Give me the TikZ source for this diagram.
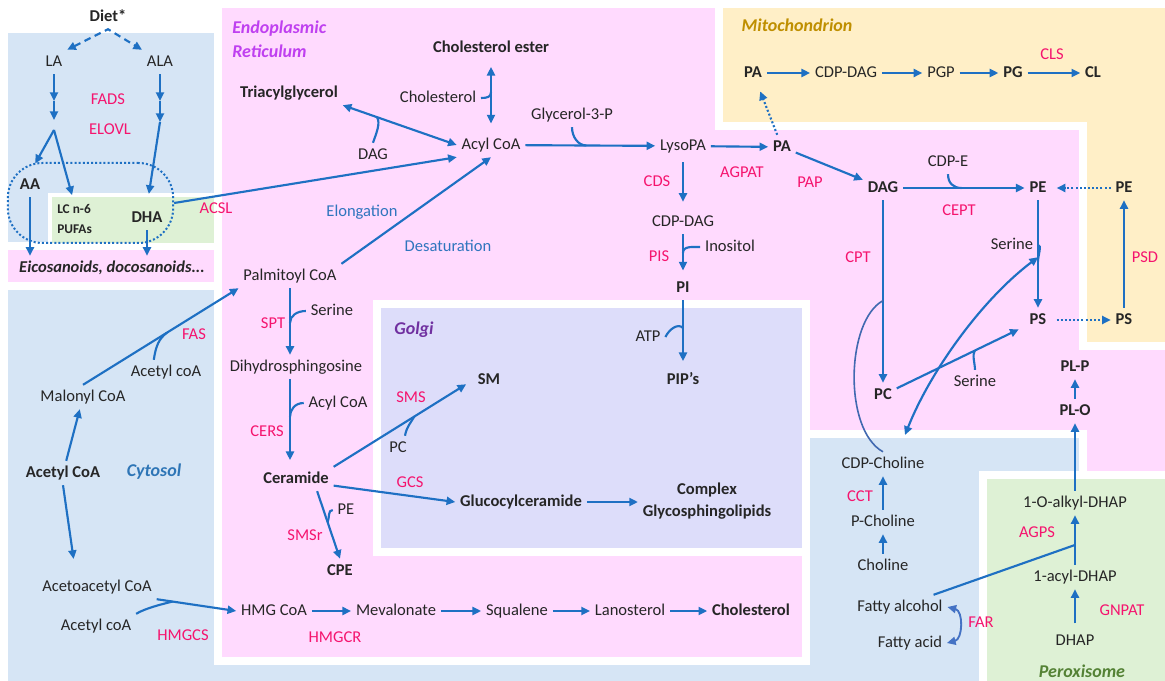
\documentclass[tikz,border=0pt]{standalone}
\usepackage{fontspec}
\setmainfont{Carlito}
\usetikzlibrary{arrows.meta,positioning,calc}

\definecolor{arrowblue}{RGB}{30,112,195}
\definecolor{enzpink}{RGB}{245,20,110}
\definecolor{textgray}{RGB}{38,38,38}
\definecolor{cytoblue}{RGB}{214,229,245}
\definecolor{erpink}{RGB}{255,218,254}
\definecolor{mitoyellow}{RGB}{255,239,199}
\definecolor{golgiblue}{RGB}{221,221,250}
\definecolor{peroxgreen}{RGB}{222,241,213}
\definecolor{ervio}{RGB}{191,64,240}
\definecolor{mitogold}{RGB}{191,143,0}
\definecolor{golgivio}{RGB}{112,48,160}
\definecolor{cytotext}{RGB}{46,117,182}
\definecolor{peroxtext}{RGB}{84,130,53}
\definecolor{procblue}{RGB}{47,117,190}
\definecolor{arcblue}{RGB}{65,105,176}
\definecolor{farblue}{RGB}{68,114,196}

\begin{document}
\begin{tikzpicture}[x=0.75pt, y=-0.75pt,
    met/.style={font=\fontsize{12.4}{15}\selectfont, text=textgray, inner sep=3.5pt,
        text height=8.7pt, text depth=2.2pt},
    bmet/.style={met, font=\fontsize{12.4}{15}\selectfont\bfseries},
    enz/.style={met, text=enzpink},
    proc/.style={met, text=procblue},
    comp/.style={font=\fontsize{13.5}{18}\selectfont\bfseries\itshape, inner sep=0pt},
    rxn/.style={draw=arrowblue, line width=1.6pt, -{Triangle[length=6.5pt,width=6pt]}},
    birxn/.style={rxn, {Triangle[length=6.5pt,width=6pt]}-{Triangle[length=6.5pt,width=6pt]}},
    dotrxn/.style={rxn, dash pattern=on 1.5pt off 1.6pt},
    sidehook/.style={draw=arrowblue, line width=1.6pt},
    wall/.style={draw=white, line width=6pt, line join=miter}]
    \useasboundingbox (0,0) rectangle (1165,681);
    \fill[white] (0,0) rectangle (1165,681);

    % Compartments
    \fill[cytoblue] (8,33) rectangle (1083,681);
    \filldraw[wall, fill=erpink] (218,4) -- (1169,4) -- (1169,475) -- (1083,475) -- (1083,434)
        -- (806,434) -- (806,661) -- (218,661) -- cycle;
    \filldraw[wall, fill=mitoyellow] (719,4) -- (1169,4) -- (1169,346) -- (1083,346)
        -- (1083,126) -- (719,126) -- cycle;
    \filldraw[wall, fill=golgiblue] (377,304) rectangle (806,552);
    \filldraw[wall, fill=peroxgreen] (983,475) rectangle (1169,685);
    \filldraw[wall, fill=erpink] (4,246) rectangle (218,286);
    \filldraw[wall, line width=3pt, fill=peroxgreen] (50,195) rectangle (216,245);

    % Compartment labels
    \node[comp, text=ervio, anchor=north west, align=left] (ERL) at (232,21) {Endoplasmic\\Reticulum};
    \node[comp, text=mitogold] (MITOL) at (797,25) {Mitochondrion};
    \node[comp, text=golgivio] (GOLGIL) at (414,330) {Golgi};
    \node[comp, text=cytotext] (CYTOL) at (154,472) {Cytosol};
    \node[comp, text=peroxtext] (PEROL) at (1082,671) {Peroxisome};

    % Diet and PUFAs
    \node[bmet] (DIET) at (108,17) {Diet*};
    \node[met] (LA) at (54,62) {LA};
    \node[met] (ALA) at (160,62) {ALA};
    \node[enz] (FADS) at (108,100) {FADS};
    \node[enz] (ELOVL) at (110,130) {ELOVL};
    \node[bmet] (AA) at (30,185) {AA};
    \node[anchor=west, font=\fontsize{10}{15}\selectfont\bfseries, text=textgray,
        align=left, inner sep=0pt] (LCN) at (57,219) {LC n-6\\PUFAs};
    \node[bmet] (DHA) at (147,218) {DHA};
    \node[bmet, font=\fontsize{12.4}{15}\selectfont\bfseries\itshape] (EICO) at (112,268) {Eicosanoids, docosanoids...};
    \node[enz] (ACSL) at (216,209) {ACSL};
    \node[draw=arrowblue, line width=1.5pt, dash pattern=on 1.5pt off 1.6pt, rounded corners=26pt,
        minimum width=124pt, minimum height=60pt, inner sep=0pt] (PUFA) at (90.5,203) {};
    \coordinate (LA1) at (54,101);
    \coordinate (LA2) at (54,120);
    \coordinate (LAB) at (54,130);
    \coordinate (AL1) at (160,101);
    \coordinate (AL2) at (160,122);

    % ER: glycerolipids
    \node[bmet] (TAG) at (289,93) {Triacylglycerol};
    \node[bmet] (CE) at (491,48) {Cholesterol ester};
    \node[met] (CHOL) at (438,98) {Cholesterol};
    \node[met] (ACYL) at (491,145) {Acyl CoA};
    \node[met] (DAGa) at (373,155) {DAG};
    \node[met] (G3P) at (572,115) {Glycerol-3-P};
    \node[met] (LYSO) at (683,146) {LysoPA};
    \node[bmet] (PA) at (782,147) {PA};
    \node[enz] (AGPAT) at (742,173) {AGPAT};
    \node[enz] (PAP) at (810,183) {PAP};
    \node[enz] (CDS) at (657,182) {CDS};
    \node[met] (CDPDAG) at (683,222) {CDP-DAG};
    \node[enz] (PIS) at (659,257) {PIS};
    \node[met] (INOS) at (730,247) {Inositol};
    \node[bmet] (PI) at (683,288) {PI};
    \node[met] (ATP) at (648,337) {ATP};
    \node[bmet] (PIP) at (683,380) {PIP’s};

    % Mitochondrion
    \node[bmet] (MPA) at (753,73) {PA};
    \node[met] (MCDP) at (846,73) {CDP-DAG};
    \node[met] (PGP) at (941,73) {PGP};
    \node[bmet] (PG) at (1013,73) {PG};
    \node[bmet] (CL) at (1093,73) {CL};
    \node[enz] (CLS) at (1052,55) {CLS};
    \node[bmet] (MPE) at (1124,188) {PE};
    \node[bmet] (MPS) at (1124,320) {PS};
    \node[enz] (PSD) at (1145,258) {PSD};

    % ER: phospholipids
    \node[bmet] (DAG) at (883,188) {DAG};
    \node[met] (CDPE) at (948,162) {CDP-E};
    \node[enz] (CEPT) at (959,211) {CEPT};
    \node[bmet] (PE) at (1038,188) {PE};
    \node[enz] (CPT) at (858,258) {CPT};
    \node[met] (SER1) at (1012,245) {Serine};
    \node[bmet] (PS) at (1038,320) {PS};
    \node[bmet] (PC) at (883,395) {PC};
    \node[met] (SER2) at (975,382) {Serine};
    \node[bmet] (PLP) at (1075,367) {PL-P};
    \node[bmet] (PLO) at (1075,411) {PL-O};

    % ER: sphingolipids and sterols
    \node[met] (PALM) at (290,276) {Palmitoyl CoA};
    \node[proc] (ELONG) at (362,212) {Elongation};
    \node[proc] (DESAT) at (448,247) {Desaturation};
    \node[enz] (SPT) at (273,324) {SPT};
    \node[met] (SER0) at (332,311) {Serine};
    \node[met] (DHS) at (296,367) {Dihydrosphingosine};
    \node[met] (ACYL2) at (338,403) {Acyl CoA};
    \node[enz] (CERS) at (267,432) {CERS};
    \node[bmet] (CER) at (296,479) {Ceramide};
    \node[enz] (SMSR) at (305,536) {SMSr};
    \node[met] (PEs) at (346,510) {PE};
    \node[bmet] (CPE) at (340,571) {CPE};
    \node[met] (HMG) at (274,611) {HMG CoA};
    \node[met] (MEV) at (396,611) {Mevalonate};
    \node[met] (SQU) at (517,611) {Squalene};
    \node[met] (LAN) at (630,611) {Lanosterol};
    \node[bmet] (CHOL2) at (751,611) {Cholesterol};
    \node[enz] (HMGCR) at (335,638) {HMGCR};

    % Golgi
    \node[enz] (SMS) at (411,398) {SMS};
    \node[bmet] (SM) at (489,380) {SM};
    \node[met] (PCs) at (398,448) {PC};
    \node[enz] (GCS) at (410,483) {GCS};
    \node[bmet] (GLC) at (521,502) {Glucocylceramide};
    \node[font=\fontsize{12.4}{16.5}\selectfont\bfseries, text=textgray, align=center,
        inner sep=3.5pt] (CGSL) at (707,501) {Complex\\Glycosphingolipids};

    % Cytosol
    \node[met] (MAL) at (83,397) {Malonyl CoA};
    \node[met] (ACE1) at (166,372) {Acetyl coA};
    \node[enz] (FAS) at (194,335) {FAS};
    \node[bmet] (ACOA) at (63,473) {Acetyl CoA};
    \node[met] (AAC) at (97,587) {Acetoacetyl CoA};
    \node[met] (ACE2) at (96,626) {Acetyl coA};
    \node[enz] (HMGCS) at (183,636) {HMGCS};
    \node[met] (CDPC) at (883,464) {CDP-Choline};
    \node[enz] (CCT) at (860,497) {CCT};
    \node[met] (PCHO) at (883,522) {P-Choline};
    \node[met] (CHO) at (883,566) {Choline};
    \node[met] (FALC) at (900,607) {Fatty alcohol};
    \node[met] (FACID) at (910,643) {Fatty acid};
    \node[enz] (FAR) at (981,623) {FAR};

    % Peroxisome
    \node[met] (ODHAP) at (1075,503) {1-O-alkyl-DHAP};
    \node[enz] (AGPS) at (1037,533) {AGPS};
    \node[met] (ADHAP) at (1075,577) {1-acyl-DHAP};
    \node[enz] (GNPAT) at (1122,611) {GNPAT};
    \node[met] (DHAP) at (1075,641) {DHAP};

    % Diet and PUFA arrows
    \draw[birxn, dash pattern=on 5pt off 3.5pt] (LA.north east) -- (DIET.south) -- (ALA.north west);
    \draw[rxn] (LA) -- (LA1);
    \draw[rxn] (LA1) -- (LA2);
    \draw[rxn, shorten >=8pt] (LAB) -- (AA.north);
    \draw[rxn, shorten >=7pt] (LAB) -- (LCN.north);
    \draw[rxn] (ALA) -- (AL1);
    \draw[rxn] (AL1) -- (AL2);
    \draw[rxn, shorten >=9pt] (AL2) -- (DHA.north);
    \draw[rxn] (AA.south) -- (AA.south |- EICO.north);
    \draw[rxn] (DHA.south) -- (DHA.south |- EICO.north);
    \draw[rxn] (PUFA.east) -- (ACYL.south west);

    % ER arrows
    \draw[birxn, shorten <=7pt, shorten >=5pt] (ACYL.north) -- coordinate[pos=0.56] (CEJ) (CE.south);
    \draw[sidehook] (CHOL.east) .. controls +(6,0) and +(0,5) .. (CEJ);
    \draw[birxn] (TAG.south east) -- coordinate[pos=0.3] (TAGJ) (ACYL.west);
    \draw[sidehook] (DAGa.north) .. controls +(3,-9) and +(4,6) .. (TAGJ);
    \draw[rxn] (ACYL) -- coordinate[pos=0.47] (G3PJ) (LYSO);
    \draw[sidehook] (G3P.south) .. controls +(0,10) and +(-8,0) .. (G3PJ);
    \draw[rxn] (LYSO) -- (PA);
    \draw[dotrxn, shorten >=5pt] (PA) -- (MPA);
    \draw[rxn] (PA) -- (DAG);
    \draw[rxn, shorten <=3pt, shorten >=6pt] (LYSO) -- (CDPDAG);
    \draw[rxn, shorten >=4pt] (CDPDAG) -- coordinate[pos=0.45] (INJ) (PI);
    \draw[sidehook] (INOS.west) .. controls +(-8,0) and +(0,-7) .. (INJ);
    \draw[rxn, shorten >=5pt] (PI) -- coordinate[pos=0.41] (ATPJ) (PIP);
    \draw[sidehook] (ATP.east) .. controls +(4,-8) and +(-5,-5) .. (ATPJ);

    % Mitochondrion arrows
    \draw[rxn] (MPA) -- (MCDP);
    \draw[rxn] (MCDP) -- (PGP);
    \draw[rxn] (PGP) -- (PG);
    \draw[rxn] (PG) -- (CL);
    \draw[dotrxn, shorten >=4pt] (MPE) -- (PE);
    \draw[rxn] (MPS) -- (MPE);
    \draw[dotrxn, shorten <=4pt] (PS) -- (MPS);

    % Phospholipid arrows
    \draw[rxn] (DAG) -- coordinate[pos=0.48] (CDPEJ) (PE);
    \draw[sidehook] (CDPE.south) .. controls +(0,9) and +(-8,0) .. (CDPEJ);
    \draw[rxn] (PE) -- coordinate[pos=0.57] (SERJ) (PS);
    \draw[sidehook] (SER1.east) .. controls +(4,0) and +(0,-6) .. (SERJ);
    \draw[rxn] (DAG) -- coordinate[pos=0.55] (CPTJ) (PC);
    \draw[sidehook, draw=arcblue, line width=1.2pt] (CDPC.north) .. controls +(-40,-22) and +(-37,20) .. (CPTJ);
    \draw[rxn, shorten >=5pt] (PC) -- coordinate[pos=0.61] (SER2J) (PS);
    \draw[sidehook] (SER2.north) .. controls +(0,-6) and +(-3,4) .. (SER2J);
    \coordinate (XL) at (905,435);
    \draw[birxn] (XL) .. controls +(25,-63) and +(-57,43) .. (SER1.south east);
    \draw[rxn] (PLO) -- (PLP);
    \draw[rxn] (ODHAP) -- (PLO);

    % Sphingolipid and sterol arrows
    \draw[rxn] (PALM.north east) -- (ACYL.south);
    \draw[rxn] (MAL.north) -- coordinate[pos=0.54] (FASJ) (PALM.south west);
    \draw[sidehook] (ACE1.135) .. controls +(2,-14) and +(-8,6) .. (FASJ);
    \draw[rxn] (ACOA) -- (MAL);
    \draw[rxn, shorten >=12pt] (ACOA.south) -- (AAC.150);
    \draw[rxn] (AAC.south east) -- coordinate[pos=0.2] (HMGCSJ) (HMG.west);
    \draw[sidehook] (ACE2.north east) .. controls +(10,-6) and +(-8,2) .. (HMGCSJ);
    \draw[rxn] (HMG) -- (MEV);
    \draw[rxn] (MEV) -- (SQU);
    \draw[rxn] (SQU) -- (LAN);
    \draw[rxn] (LAN) -- (CHOL2);
    \draw[rxn] (PALM.south) -- coordinate[pos=0.52] (SPTJ) (PALM.south |- DHS.north);
    \draw[sidehook] (SER0.west) .. controls +(-9,0) and +(0,-7) .. (SPTJ);
    \draw[rxn, shorten >=5pt] (PALM.south |- DHS.south) -- coordinate[pos=0.43] (CERSJ) (PALM.south |- CER.north);
    \draw[sidehook] (ACYL2.west) .. controls +(-9,0) and +(0,-7) .. (CERSJ);
    \draw[rxn, shorten >=6pt] (CER.north east) -- coordinate[pos=0.58] (SMSJ) (SM.west);
    \draw[sidehook] (PCs.60) .. controls +(1,-8) and +(-3,5) .. (SMSJ);
    \draw[rxn] (CER.-10) -- (GLC.west);
    \draw[rxn] (GLC.east) -- (GLC.east -| CGSL.west);
    \draw[rxn] (CER.-30) -- coordinate[pos=0.46] (SMSRJ) (CPE.north);
    \draw[sidehook] (PEs.west) .. controls +(-5,0) and +(2,-5) .. (SMSRJ);

    % Choline and ether lipid arrows
    \draw[rxn] (PCHO) -- (CDPC);
    \draw[rxn] (CHO) -- (PCHO);
    \draw[rxn, shorten <=4pt] (DHAP) -- (ADHAP);
    \draw[rxn] (ADHAP) -- coordinate[pos=0.4] (AGPSJ) (ODHAP);
    \draw[sidehook] (FALC.20) -- (AGPSJ);
    \draw[birxn, draw=farblue, line width=1.4pt] (FALC.east) .. controls +(16,4) and +(16,-4) .. (FACID.east);

\end{tikzpicture}
\end{document}
